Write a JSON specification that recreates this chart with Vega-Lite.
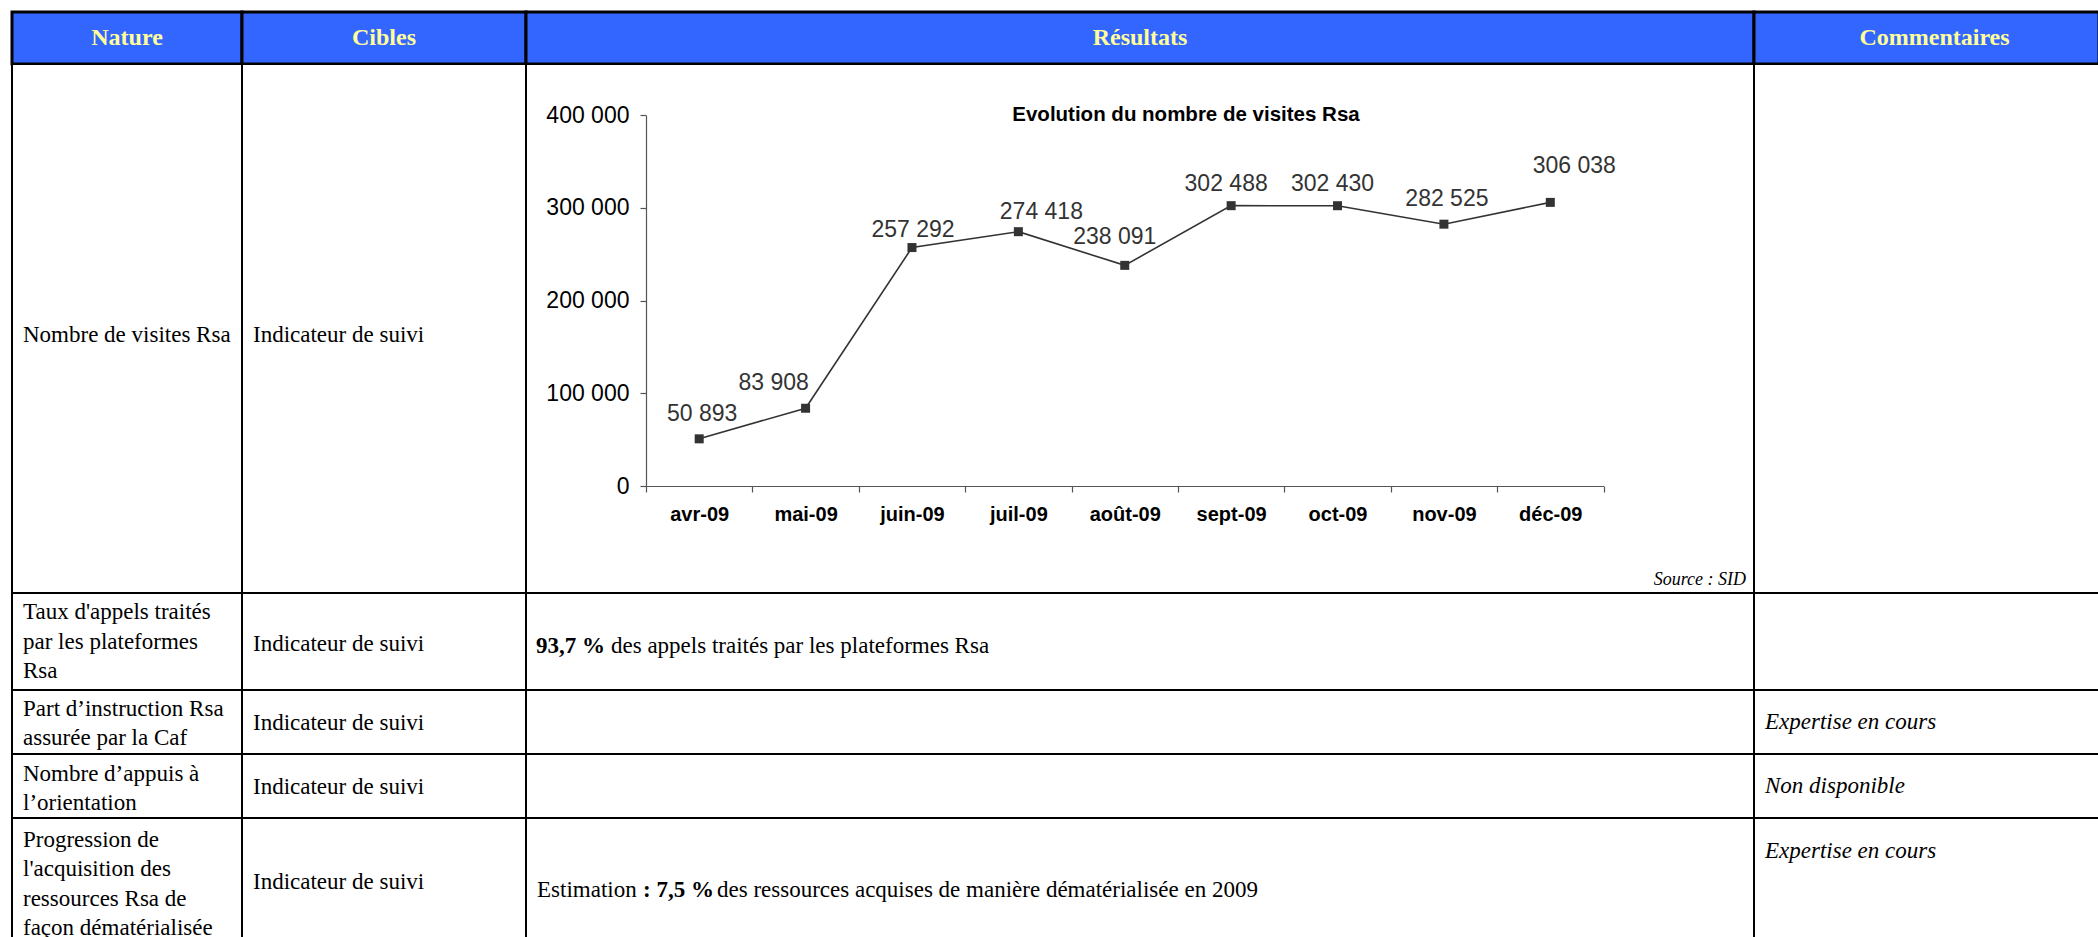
{
  "$schema": "https://vega.github.io/schema/vega-lite/v6.json",
  "background": "white",
  "padding": {"left": 10, "top": 10, "right": 0, "bottom": 0},
  "autosize": {"type": "pad"},
  "columns": 4,
  "spacing": 0,
  "align": "each",
  "bounds": "flush",
  "config": {
    "view": {"stroke": null},
    "locale": {"number": {"decimal": ",", "thousands": " ", "grouping": [3], "currency": ["", " €"]}},
    "text": {"font": "Liberation Serif", "fontSize": 23, "lineHeight": 29.5, "baseline": "middle", "color": "#000"}
  },
  "datasets": {
    "table": [
      {"ligne": 0, "colonne": "Nature", "texte": "Nature"},
      {"ligne": 0, "colonne": "Cibles", "texte": "Cibles"},
      {"ligne": 0, "colonne": "Résultats", "texte": "Résultats"},
      {"ligne": 0, "colonne": "Commentaires", "texte": "Commentaires"},
      {"ligne": 1, "colonne": "Nature", "texte": ["Nombre de visites Rsa"]},
      {"ligne": 1, "colonne": "Cibles", "texte": ["Indicateur de suivi"]},
      {"ligne": 2, "colonne": "Nature", "texte": ["Taux d'appels traités", "par les plateformes", "Rsa"]},
      {"ligne": 2, "colonne": "Cibles", "texte": ["Indicateur de suivi"]},
      {"ligne": 2, "colonne": "Résultats", "gras": "93,7 %", "texte": "des appels traités par les plateformes Rsa"},
      {"ligne": 3, "colonne": "Nature", "texte": ["Part d’instruction Rsa", "assurée par la Caf"]},
      {"ligne": 3, "colonne": "Cibles", "texte": ["Indicateur de suivi"]},
      {"ligne": 3, "colonne": "Commentaires", "texte": ["Expertise en cours"]},
      {"ligne": 4, "colonne": "Nature", "texte": ["Nombre d’appuis à", "l’orientation"]},
      {"ligne": 4, "colonne": "Cibles", "texte": ["Indicateur de suivi"]},
      {"ligne": 4, "colonne": "Commentaires", "texte": ["Non disponible"]},
      {"ligne": 5, "colonne": "Nature", "texte": ["Progression de", "l'acquisition des", "ressources Rsa de", "façon dématérialisée"]},
      {"ligne": 5, "colonne": "Cibles", "texte": ["Indicateur de suivi"]},
      {"ligne": 5, "colonne": "Résultats", "debut": "Estimation", "gras": ": 7,5 %", "texte": "des ressources acquises de manière dématérialisée en 2009"},
      {"ligne": 5, "colonne": "Commentaires", "texte": ["Expertise en cours"]}
    ],
    "visites": [
      {"mois": "avr-09", "visites": 50893},
      {"mois": "mai-09", "visites": 83908},
      {"mois": "juin-09", "visites": 257292},
      {"mois": "juil-09", "visites": 274418},
      {"mois": "août-09", "visites": 238091},
      {"mois": "sept-09", "visites": 302488},
      {"mois": "oct-09", "visites": 302430},
      {"mois": "nov-09", "visites": 282525},
      {"mois": "déc-09", "visites": 306038}
    ]
  },
  "concat": [
    {"width": 230, "height": 52, "view": {"fill": "#3366FF", "stroke": "#000", "strokeWidth": 3},
     "data": {"name": "table"}, "transform": [{"filter": "datum.ligne == 0 && datum.colonne == 'Nature'"}],
     "mark": {"type": "text", "align": "center", "fontWeight": "bold", "fontSize": 24, "color": "#FFFF99"},
     "encoding": {"text": {"field": "texte"}}},
    {"width": 284, "height": 52, "view": {"fill": "#3366FF", "stroke": "#000", "strokeWidth": 3},
     "data": {"name": "table"}, "transform": [{"filter": "datum.ligne == 0 && datum.colonne == 'Cibles'"}],
     "mark": {"type": "text", "align": "center", "fontWeight": "bold", "fontSize": 24, "color": "#FFFF99"},
     "encoding": {"text": {"field": "texte"}}},
    {"width": 1228, "height": 52, "view": {"fill": "#3366FF", "stroke": "#000", "strokeWidth": 3},
     "data": {"name": "table"}, "transform": [{"filter": "datum.ligne == 0 && datum.colonne == 'Résultats'"}],
     "mark": {"type": "text", "align": "center", "fontWeight": "bold", "fontSize": 24, "color": "#FFFF99"},
     "encoding": {"text": {"field": "texte"}}},
    {"width": 345, "height": 52, "view": {"fill": "#3366FF", "stroke": "#000", "strokeWidth": 3},
     "data": {"name": "table"}, "transform": [{"filter": "datum.ligne == 0 && datum.colonne == 'Commentaires'"}],
     "mark": {"type": "text", "align": "center", "fontWeight": "bold", "fontSize": 24, "color": "#FFFF99", "dx": 8},
     "encoding": {"text": {"field": "texte"}}},

    {"width": 230, "height": 529, "view": {"fill": "white", "stroke": "#000", "strokeWidth": 2},
     "data": {"name": "table"}, "transform": [{"filter": "datum.ligne == 1 && datum.colonne == 'Nature'"}],
     "mark": {"type": "text", "align": "left", "dy": 6},
     "encoding": {"x": {"value": 11}, "text": {"field": "texte"}}},
    {"width": 284, "height": 529, "view": {"fill": "white", "stroke": "#000", "strokeWidth": 2},
     "data": {"name": "table"}, "transform": [{"filter": "datum.ligne == 1 && datum.colonne == 'Cibles'"}],
     "mark": {"type": "text", "align": "left", "dy": 6},
     "encoding": {"x": {"value": 11}, "text": {"field": "texte"}}},
    {
      "width": 1228,
      "height": 529,
      "view": {"fill": "white", "stroke": "#000", "strokeWidth": 2},
      "data": {"name": "visites"},
      "encoding": {
        "x": {
          "field": "mois", "type": "ordinal", "sort": null,
          "scale": {"type": "band", "domain": ["avr-09", "mai-09", "juin-09", "juil-09", "août-09", "sept-09", "oct-09", "nov-09", "déc-09"], "paddingInner": 0, "paddingOuter": 0, "range": [120, 1077.5]},
          "axis": {"title": null, "offset": -107, "tickBand": "extent", "labelAngle": 0, "grid": false,
                   "labelFont": "Liberation Sans", "labelFontWeight": "bold", "labelFontSize": 20, "labelColor": "#000",
                   "tickSize": 6, "labelPadding": 12, "domainColor": "#555", "tickColor": "#555", "domainWidth": 1.2, "tickWidth": 1.2}
        },
        "y": {
          "field": "visites", "type": "quantitative",
          "scale": {"domain": [0, 400000], "range": [422, 51.3], "nice": false, "zero": true},
          "axis": {"title": null, "offset": -120, "values": [0, 100000, 200000, 300000, 400000], "format": ",.0f", "grid": false,
                   "labelFont": "Liberation Sans", "labelFontSize": 23, "labelColor": "#000",
                   "tickSize": 6, "labelPadding": 11, "domainColor": "#555", "tickColor": "#555", "domainWidth": 1.2, "tickWidth": 1.2}
        }
      },
      "layer": [
        {"mark": {"type": "line", "color": "#333", "strokeWidth": 1.6}},
        {"mark": {"type": "point", "shape": "square", "filled": true, "size": 81, "color": "#333", "opacity": 1}},
        {"transform": [{"filter": "datum.mois == 'avr-09' || datum.mois == 'nov-09'"}],
         "mark": {"type": "text", "font": "Liberation Sans", "fontSize": 23, "color": "#333", "dx": 3, "dy": -25},
         "encoding": {"text": {"field": "visites", "type": "quantitative", "format": ",.0f"}}},
        {"transform": [{"filter": "datum.mois == 'mai-09'"}],
         "mark": {"type": "text", "font": "Liberation Sans", "fontSize": 23, "color": "#333", "dx": -32, "dy": -25.5},
         "encoding": {"text": {"field": "visites", "type": "quantitative", "format": ",.0f"}}},
        {"transform": [{"filter": "datum.mois == 'juin-09'"}],
         "mark": {"type": "text", "font": "Liberation Sans", "fontSize": 23, "color": "#333", "dx": 1, "dy": -18},
         "encoding": {"text": {"field": "visites", "type": "quantitative", "format": ",.0f"}}},
        {"transform": [{"filter": "datum.mois == 'juil-09'"}],
         "mark": {"type": "text", "font": "Liberation Sans", "fontSize": 23, "color": "#333", "dx": 23, "dy": -20},
         "encoding": {"text": {"field": "visites", "type": "quantitative", "format": ",.0f"}}},
        {"transform": [{"filter": "datum.mois == 'août-09'"}],
         "mark": {"type": "text", "font": "Liberation Sans", "fontSize": 23, "color": "#333", "dx": -10, "dy": -28},
         "encoding": {"text": {"field": "visites", "type": "quantitative", "format": ",.0f"}}},
        {"transform": [{"filter": "datum.mois == 'sept-09' || datum.mois == 'oct-09'"}],
         "mark": {"type": "text", "font": "Liberation Sans", "fontSize": 23, "color": "#333", "dx": -5, "dy": -22},
         "encoding": {"text": {"field": "visites", "type": "quantitative", "format": ",.0f"}}},
        {"transform": [{"filter": "datum.mois == 'déc-09'"}],
         "mark": {"type": "text", "font": "Liberation Sans", "fontSize": 23, "color": "#333", "dx": 24, "dy": -36.5},
         "encoding": {"text": {"field": "visites", "type": "quantitative", "format": ",.0f"}}},
        {"data": {"values": [{"titre": "Evolution du nombre de visites Rsa"}]},
         "mark": {"type": "text", "font": "Liberation Sans", "fontWeight": "bold", "fontSize": 20.5, "align": "center"},
         "encoding": {"x": {"value": 660}, "y": {"value": 51}, "text": {"field": "titre"}}},
        {"data": {"values": [{"source": "Source : SID"}]},
         "mark": {"type": "text", "font": "Liberation Serif", "fontStyle": "italic", "fontSize": 18, "align": "right"},
         "encoding": {"x": {"value": 1220}, "y": {"value": 516}, "text": {"field": "source"}}}
      ]
    },
    {"width": 345, "height": 529, "view": {"fill": "white", "stroke": "#000", "strokeWidth": 2},
     "data": {"values": []}, "mark": {"type": "text"}, "encoding": {"text": {"field": "texte"}}},

    {"width": 230, "height": 97, "view": {"fill": "white", "stroke": "#000", "strokeWidth": 2},
     "data": {"name": "table"}, "transform": [{"filter": "datum.ligne == 2 && datum.colonne == 'Nature'"}],
     "mark": {"type": "text", "align": "left", "dy": -29.5},
     "encoding": {"x": {"value": 11}, "text": {"field": "texte"}}},
    {"width": 284, "height": 97, "view": {"fill": "white", "stroke": "#000", "strokeWidth": 2},
     "data": {"name": "table"}, "transform": [{"filter": "datum.ligne == 2 && datum.colonne == 'Cibles'"}],
     "mark": {"type": "text", "align": "left", "dy": 2},
     "encoding": {"x": {"value": 11}, "text": {"field": "texte"}}},
    {"width": 1228, "height": 97, "view": {"fill": "white", "stroke": "#000", "strokeWidth": 2},
     "data": {"name": "table"}, "transform": [{"filter": "datum.ligne == 2 && datum.colonne == 'Résultats'"}],
     "layer": [
       {"mark": {"type": "text", "align": "left", "fontWeight": "bold", "dy": 4},
        "encoding": {"x": {"value": 10}, "text": {"field": "gras"}}},
       {"mark": {"type": "text", "align": "left", "dy": 4},
        "encoding": {"x": {"value": 85}, "text": {"field": "texte"}}}
     ]},
    {"width": 345, "height": 97, "view": {"fill": "white", "stroke": "#000", "strokeWidth": 2},
     "data": {"values": []}, "mark": {"type": "text"}, "encoding": {"text": {"field": "texte"}}},

    {"width": 230, "height": 64, "view": {"fill": "white", "stroke": "#000", "strokeWidth": 2},
     "data": {"name": "table"}, "transform": [{"filter": "datum.ligne == 3 && datum.colonne == 'Nature'"}],
     "mark": {"type": "text", "align": "left", "dy": -13.3},
     "encoding": {"x": {"value": 11}, "text": {"field": "texte"}}},
    {"width": 284, "height": 64, "view": {"fill": "white", "stroke": "#000", "strokeWidth": 2},
     "data": {"name": "table"}, "transform": [{"filter": "datum.ligne == 3 && datum.colonne == 'Cibles'"}],
     "mark": {"type": "text", "align": "left", "dy": 1},
     "encoding": {"x": {"value": 11}, "text": {"field": "texte"}}},
    {"width": 1228, "height": 64, "view": {"fill": "white", "stroke": "#000", "strokeWidth": 2},
     "data": {"values": []}, "mark": {"type": "text"}, "encoding": {"text": {"field": "texte"}}},
    {"width": 345, "height": 64, "view": {"fill": "white", "stroke": "#000", "strokeWidth": 2},
     "data": {"name": "table"}, "transform": [{"filter": "datum.ligne == 3 && datum.colonne == 'Commentaires'"}],
     "mark": {"type": "text", "align": "left", "fontStyle": "italic"},
     "encoding": {"x": {"value": 11}, "text": {"field": "texte"}}},

    {"width": 230, "height": 64, "view": {"fill": "white", "stroke": "#000", "strokeWidth": 2},
     "data": {"name": "table"}, "transform": [{"filter": "datum.ligne == 4 && datum.colonne == 'Nature'"}],
     "mark": {"type": "text", "align": "left", "dy": -12.3},
     "encoding": {"x": {"value": 11}, "text": {"field": "texte"}}},
    {"width": 284, "height": 64, "view": {"fill": "white", "stroke": "#000", "strokeWidth": 2},
     "data": {"name": "table"}, "transform": [{"filter": "datum.ligne == 4 && datum.colonne == 'Cibles'"}],
     "mark": {"type": "text", "align": "left", "dy": 1},
     "encoding": {"x": {"value": 11}, "text": {"field": "texte"}}},
    {"width": 1228, "height": 64, "view": {"fill": "white", "stroke": "#000", "strokeWidth": 2},
     "data": {"values": []}, "mark": {"type": "text"}, "encoding": {"text": {"field": "texte"}}},
    {"width": 345, "height": 64, "view": {"fill": "white", "stroke": "#000", "strokeWidth": 2},
     "data": {"name": "table"}, "transform": [{"filter": "datum.ligne == 4 && datum.colonne == 'Commentaires'"}],
     "mark": {"type": "text", "align": "left", "fontStyle": "italic"},
     "encoding": {"x": {"value": 11}, "text": {"field": "texte"}}},

    {"width": 230, "height": 120, "view": {"fill": "white", "stroke": "#000", "strokeWidth": 2},
     "data": {"name": "table"}, "transform": [{"filter": "datum.ligne == 5 && datum.colonne == 'Nature'"}],
     "mark": {"type": "text", "align": "left", "dy": -38.5},
     "encoding": {"x": {"value": 11}, "text": {"field": "texte"}}},
    {"width": 284, "height": 120, "view": {"fill": "white", "stroke": "#000", "strokeWidth": 2},
     "data": {"name": "table"}, "transform": [{"filter": "datum.ligne == 5 && datum.colonne == 'Cibles'"}],
     "mark": {"type": "text", "align": "left", "dy": 4},
     "encoding": {"x": {"value": 11}, "text": {"field": "texte"}}},
    {"width": 1228, "height": 120, "view": {"fill": "white", "stroke": "#000", "strokeWidth": 2},
     "data": {"name": "table"}, "transform": [{"filter": "datum.ligne == 5 && datum.colonne == 'Résultats'"}],
     "layer": [
       {"mark": {"type": "text", "align": "left", "dy": 12},
        "encoding": {"x": {"value": 11}, "text": {"field": "debut"}}},
       {"mark": {"type": "text", "align": "left", "fontWeight": "bold", "dy": 12},
        "encoding": {"x": {"value": 117}, "text": {"field": "gras"}}},
       {"mark": {"type": "text", "align": "left", "dy": 12},
        "encoding": {"x": {"value": 191}, "text": {"field": "texte"}}}
     ]},
    {"width": 345, "height": 120, "view": {"fill": "white", "stroke": "#000", "strokeWidth": 2},
     "data": {"name": "table"}, "transform": [{"filter": "datum.ligne == 5 && datum.colonne == 'Commentaires'"}],
     "mark": {"type": "text", "align": "left", "fontStyle": "italic"},
     "encoding": {"x": {"value": 11}, "y": {"value": 33}, "text": {"field": "texte"}}}
  ]
}
